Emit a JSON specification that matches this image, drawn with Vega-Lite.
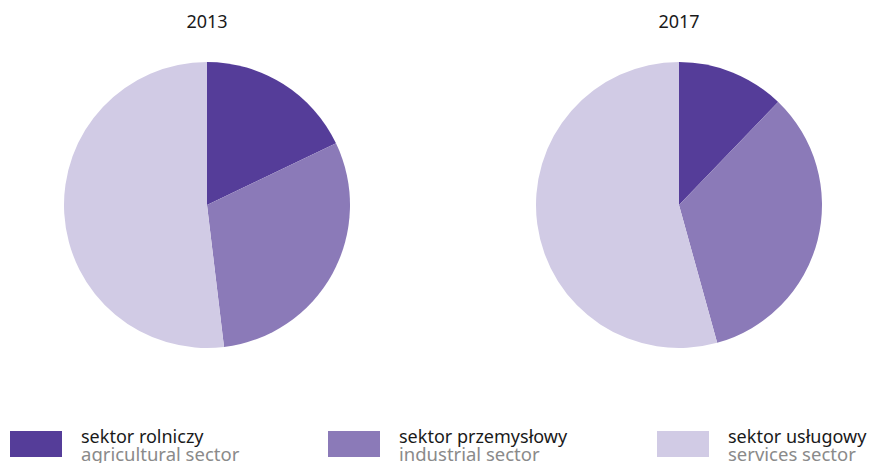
{
  "$schema": "https://vega.github.io/schema/vega-lite/v6.json",
  "padding": {"left": 10, "top": 14, "right": 0, "bottom": 0},
  "background": "white",
  "spacing": 71,
  "config": {
    "view": {"stroke": null},
    "font": "Noto Sans",
    "title": {"font": "Noto Sans", "fontSize": 18, "fontWeight": "normal", "color": "#1a1a1a", "offset": 28}
  },
  "datasets": {
    "shares": [
      {"year": "2013", "sector": "agricultural", "idx": 1, "value": 17.9},
      {"year": "2013", "sector": "industrial", "idx": 2, "value": 30.2},
      {"year": "2013", "sector": "services", "idx": 3, "value": 51.9},
      {"year": "2017", "sector": "agricultural", "idx": 1, "value": 12.2},
      {"year": "2017", "sector": "industrial", "idx": 2, "value": 33.5},
      {"year": "2017", "sector": "services", "idx": 3, "value": 54.3}
    ],
    "legend": [
      {"sector": "agricultural", "idx": 1, "pl": "sektor rolniczy", "en": "agricultural sector"},
      {"sector": "industrial", "idx": 2, "pl": "sektor przemysłowy", "en": "industrial sector"},
      {"sector": "services", "idx": 3, "pl": "sektor usługowy", "en": "services sector"}
    ]
  },
  "vconcat": [
    {
      "spacing": 78,
      "hconcat": [
        {
          "title": "2013",
          "width": 394,
          "height": 290,
          "data": {"name": "shares"},
          "transform": [{"filter": "datum.year === '2013'"}],
          "mark": {"type": "arc", "outerRadius": 143},
          "encoding": {
            "theta": {"field": "value", "type": "quantitative", "stack": true},
            "order": {"field": "idx", "type": "quantitative"},
            "color": {"field": "sector", "type": "nominal", "legend": null,
              "scale": {"domain": ["agricultural", "industrial", "services"], "range": ["#553d99", "#8b7ab8", "#d1cbe5"]}}
          }
        },
        {
          "title": "2017",
          "width": 394,
          "height": 290,
          "data": {"name": "shares"},
          "transform": [{"filter": "datum.year === '2017'"}],
          "mark": {"type": "arc", "outerRadius": 143},
          "encoding": {
            "theta": {"field": "value", "type": "quantitative", "stack": true},
            "order": {"field": "idx", "type": "quantitative"},
            "color": {"field": "sector", "type": "nominal", "legend": null,
              "scale": {"domain": ["agricultural", "industrial", "services"], "range": ["#553d99", "#8b7ab8", "#d1cbe5"]}}
          }
        }
      ]
    },
    {
      "width": 864,
      "height": 46,
      "data": {"name": "legend"},
      "encoding": {
        "x": {"field": "idx", "type": "quantitative", "axis": null,
          "scale": {"domain": [1, 2, 3], "range": [26, 344, 673], "zero": false, "nice": false}}
      },
      "layer": [
        {
          "mark": {"type": "point", "shape": "M-1,-0.5H1V0.5H-1Z", "filled": true, "size": 2704, "opacity": 1, "strokeWidth": 0},
          "encoding": {
            "color": {"field": "sector", "type": "nominal", "legend": null,
              "scale": {"domain": ["agricultural", "industrial", "services"], "range": ["#553d99", "#8b7ab8", "#d1cbe5"]}}
          }
        },
        {
          "mark": {"type": "text", "align": "left", "baseline": "alphabetic", "dx": 45, "dy": -1, "fontSize": 18, "color": "#1a1a1a"},
          "encoding": {"text": {"field": "pl"}}
        },
        {
          "mark": {"type": "text", "align": "left", "baseline": "alphabetic", "dx": 45, "dy": 17, "fontSize": 18.5, "color": "#8a8a8a"},
          "encoding": {"text": {"field": "en"}}
        }
      ]
    }
  ]
}
